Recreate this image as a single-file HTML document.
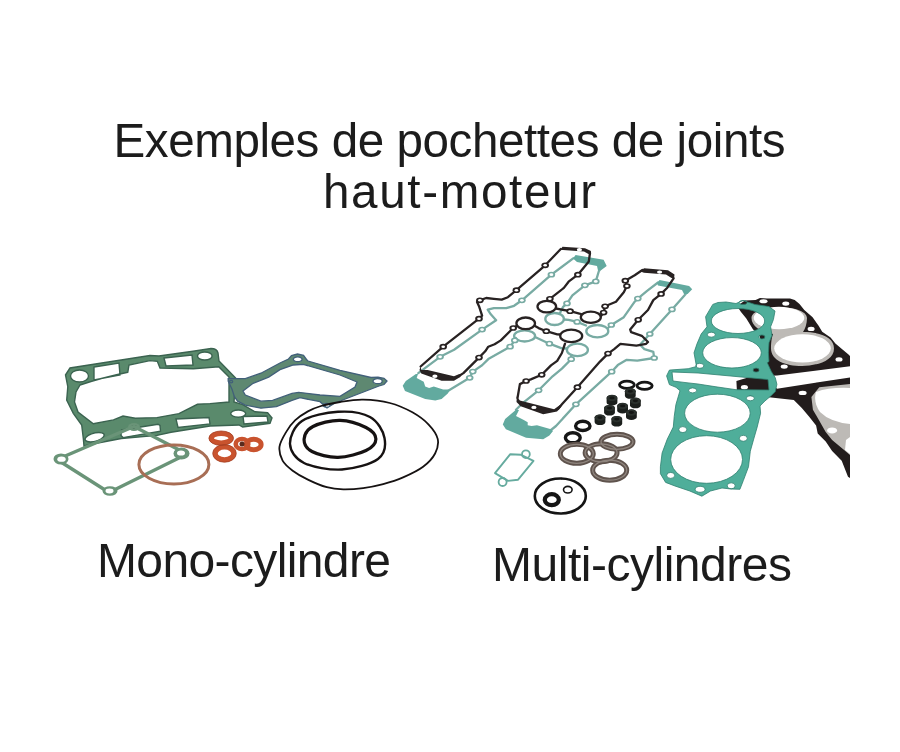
<!DOCTYPE html>
<html><head><meta charset="utf-8">
<style>
html,body{margin:0;padding:0;background:#fff;}
body{width:900px;height:752px;overflow:hidden;position:relative;}
svg{position:absolute;left:0;top:0;}
</style></head>
<body>
<svg width="900" height="752" viewBox="0 0 900 752">
<rect width="900" height="752" fill="#fff"/>
<g font-family="Liberation Sans" fill="#1c1c1c" style="will-change:transform">
<text x="113.5" y="157" font-size="47.6" textLength="672" lengthAdjust="spacing">Exemples de pochettes de joints</text>
<text x="323" y="208" font-size="47.6" textLength="273" lengthAdjust="spacing">haut-moteur</text>
<text x="97" y="577" font-size="48" textLength="294" lengthAdjust="spacing">Mono-cylindre</text>
<text x="492" y="581" font-size="48" textLength="300" lengthAdjust="spacing">Multi-cylindres</text>
</g>

<!-- ===== MONO-CYLINDRE ===== -->
<!-- Gasket C (thin head gasket) -->
<!-- Gasket A (cylinder base) -->
<path fill="#5a8a6c" stroke="#3b6350" stroke-width="1.4" fill-rule="evenodd" d="
M65.5 375 L70 368 L150 355.5 L159 356 L193 351.3 L211 348.5 Q217 348.5 218 353 L219 361 L235.6 378
L234 402 L242.7 404.7 L255 411.8 L267.6 412.7 L272 418 L270 423.3 L242.7 427 L239 425 L210 426 L171 432.3 L157 435.4 L121.3 438.5 L88.7 444.8 L84 446 L83.3 438.3 L81.7 425 L73.3 413.3 L66.7 400 L67.8 386.7 Z
M76 392 L80 385 Q100 378 127.8 372.2 L129 365 L150 360.6 L157.3 361.3 L160 368 L193.3 368.7 L218.7 366.7 L229 377 L229 402 L210 403.6 L197.5 404.3 L178.9 413.7 L157 417.6 L135.3 418.3 L123 416 L113.5 419.9 L93.3 423.8 L78 412 L74.5 402 Z
M70.5 376 a9 6 0 1 0 18 0 a9 6 0 1 0 -18 0 Z
M94 367 L119 363 L120 375 L94 380 Z
M164 358 L192 355 L193 365 L166 366 Z
M197.5 356 a7.3 4 0 1 0 14.6 0 a7.3 4 0 1 0 -14.6 0 Z
M230.7 413.6 a7.5 3.6 0 1 0 15 0 a7.5 3.6 0 1 0 -15 0 Z
M243 416.5 L267 416 L268 422 L244 424 Z
M176 419 L209 417.5 L210 424 L178 427.5 Z
M121.5 430 L158 424.2 L160 425.5 L160.5 431.2 L123 437.6 L121 435.5 Z
M86 437.2 a8.6 3.6 -15 1 0 17.2 0 a8.6 3.6 -15 1 0 -17.2 0 Z
"/>

<g id="gC">
<ellipse cx="134" cy="427" rx="6" ry="4" fill="#6a9478"/><ellipse cx="134" cy="427" rx="3" ry="1.8" fill="#3c5a48"/>
<path d="M57 459.5 L134 426.5 L187 454 L109 492.5 Z" fill="none" stroke="#6a9478" stroke-width="3.4" stroke-linejoin="round"/>
<ellipse cx="61" cy="459" rx="7.5" ry="5.5" fill="#6a9478"/><ellipse cx="61.5" cy="459.2" rx="4.2" ry="2.6" fill="#fff"/>
<ellipse cx="181.5" cy="453.5" rx="8" ry="6" fill="#6a9478"/><ellipse cx="181" cy="453" rx="4" ry="2.6" fill="#fff"/>
<ellipse cx="110" cy="491" rx="7.5" ry="4.8" fill="#6a9478"/><ellipse cx="109.5" cy="491" rx="4" ry="2.4" fill="#fff"/>
</g>

<!-- Gasket B -->
<path fill="#5e8871" stroke="#42607a" stroke-width="1.3" fill-rule="evenodd" d="
M228.2 378.7 L245.3 378.7 L260.9 373.2 L280 363 L288.5 359 L291.5 355.5 L297.5 354 L303.5 355.3 L306.5 359.5 L308 361 L340 370.3 L371 377.5 L378 377.2 L384 378.3 L387 381 L384 384.5 L379 386 L335 403 L327 408 L320 401.7 L300 397.7 L292 400.4 L276.4 406.7 L260.9 408.2 L245.3 405.1 L237.6 401.2 L234.4 396.6 L232.1 389.6 L228.2 381 Z
M243 391 L253.1 383.3 L268.7 377.1 L280 369.7 L293.3 365 L303.3 364.3 L340 375 L357 382 L355 387 L340 396.3 L320 395 L298.7 392.3 L292 393.4 L272.6 400.4 L260.9 401.2 L245.3 395 Z
M293.3 359.3 a4.4 2.4 0 1 0 8.8 0 a4.4 2.4 0 1 0 -8.8 0 Z
M373 381.2 a4.6 2.5 0 1 0 9.2 0 a4.6 2.5 0 1 0 -9.2 0 Z
M323.2 405.3 a3.4 2 0 1 0 6.8 0 a3.4 2 0 1 0 -6.8 0 Z
M229.5 381.6 a1.6 1.3 0 1 0 3.2 0 a1.6 1.3 0 1 0 -3.2 0 Z
"/>

<!-- Copper ring D -->
<ellipse cx="173.9" cy="464.4" rx="35" ry="19.5" fill="none" stroke="#a86e55" stroke-width="3"/>

<!-- Orange washers E -->
<g fill="none" stroke="#c9532e">
<ellipse cx="253.7" cy="444.5" rx="7.4" ry="5.3" stroke-width="5"/>
<ellipse cx="242" cy="444" rx="6.3" ry="5" stroke-width="4.6"/>
<ellipse cx="221.2" cy="438.2" rx="9.8" ry="4.8" stroke-width="5"/>
<ellipse cx="224.5" cy="453.4" rx="9.2" ry="6.4" stroke-width="5"/>
</g>
<g fill="none" stroke="#a33d22" stroke-width="0.8">
<ellipse cx="221.2" cy="438.2" rx="12.3" ry="7.2"/>
<ellipse cx="224.5" cy="453.4" rx="11.8" ry="8.8"/>
</g>
<ellipse cx="242" cy="444" rx="2.5" ry="2.5" fill="#5a2a1c"/>

<!-- O-rings F -->
<g fill="none" stroke="#161212">
<path d="M363.2 399.7 C371.5 399.9 381.6 400.9 389.8 403.0 C398.0 405.1 406.0 408.8 412.4 412.3 C418.8 415.9 424.2 419.9 428.4 424.3 C432.6 428.7 436.6 434.0 437.7 438.9 C438.8 443.8 437.5 448.9 435.1 453.5 C432.7 458.1 428.4 462.8 423.1 466.8 C417.8 470.8 409.8 474.5 403.1 477.4 C396.5 480.3 389.9 482.3 383.2 484.1 C376.5 485.9 369.8 487.2 363.2 488.1 C356.6 489.0 349.4 489.5 343.3 489.4 C337.2 489.2 332.7 488.8 326.8 487.2 C320.9 485.6 313.6 482.4 307.9 479.6 C302.2 476.9 296.9 473.9 292.7 470.7 C288.5 467.5 284.8 464.6 282.6 460.6 C280.4 456.6 278.9 451.5 279.5 446.7 C280.1 441.9 283.8 436.0 286.4 431.6 C289.0 427.2 291.7 423.6 295.3 420.2 C298.9 416.8 303.6 413.8 307.9 411.4 C312.2 409.0 315.6 407.6 321.0 406.0 C326.4 404.4 333.0 403.1 340.0 402.0 C347.0 400.9 354.9 399.5 363.2 399.7 Z" stroke-width="1.8"/>
<path d="M338.0 411.8 C349.3 411.1 362.2 412.6 370.0 417.0 C377.8 421.4 383.2 431.0 384.5 438.0 C385.8 445.0 385.1 453.8 378.0 459.0 C370.9 464.2 354.3 468.8 342.0 469.5 C329.7 470.2 312.7 467.2 304.0 463.0 C295.3 458.8 290.3 451.0 290.0 444.0 C289.7 437.0 294.0 426.4 302.0 421.0 C310.0 415.6 326.7 412.5 338.0 411.8 Z" stroke-width="2.4"/>
<path d="M340.0 420.3 C348.8 420.5 360.0 424.4 366.0 427.5 C372.0 430.6 375.9 435.1 375.9 438.9 C375.9 442.7 372.3 447.4 366.0 450.5 C359.7 453.6 347.0 457.1 338.0 457.3 C329.0 457.5 317.6 454.5 312.0 451.5 C306.4 448.5 303.9 443.4 304.1 439.2 C304.3 435.0 307.0 429.6 313.0 426.5 C319.0 423.4 331.2 420.1 340.0 420.3 Z" stroke-width="3.2"/>
</g>

<!-- ===== MULTI-CYLINDRES ===== -->
<!-- Black head gaskets (right) -->
<g id="bh">
<path fill="#221c1c" d="M737 306 L745 300.5 L755.6 300 L760 298 L767 298.5 L790 298.5 L794.7 300 L799.5 304.1 L804.3 310.1 L812.6 317.3 L818.6 325.7 L822.2 331.7 L830.6 337.6 L835.4 343.6 L842.5 349.6 L848.5 354.4 L850 356 L850 366.2 L777 375.5 L766 376 L750 374 L750 366 L762 360 L762 345 L759.6 335.9 L752.9 329.2 L746.3 318.6 L741 312 Z"/>
<path fill="#bdbab6" d="M751.5 318 C751.5 303.5 807 303.5 807 318 C807 324 805 329 803 332 C822 332 834 338 834 348.4 C834 361 816 366 802 366 C785 366 771 360 771 348.4 C771 341 772 337 773 334 C760 332 751.5 326 751.5 318 Z"/>
<ellipse cx="779" cy="318" rx="25.3" ry="11.2" fill="#fff"/>
<ellipse cx="802.5" cy="348.4" rx="28.3" ry="14.2" fill="#fff"/>
<path fill="#221c1c" d="M736.4 381 L748 377.5 L766 377 L777 388.7 L850 377.5 L850 478 L848 476.7 L841.7 460.7 L832.1 451.1 L825.7 441.6 L817.7 433.6 L816.1 425.6 L809.8 417.6 L801.8 408.1 L793.8 400.1 L766.7 396.9 L750 396 L737 393 Z"/>
<path fill="#bdbab6" d="M819.3 387.3 L850 384 L850 455 L841.7 448 L832.1 440 L825.7 432 L819.3 420.8 L812.9 409.7 L811.4 396.9 Z"/>
<path fill="#fff" d="M816 392 Q830 387 850 388 L850 424 Q830 422 820 412 Q813 402 816 392 Z"/>
<path fill="#fff" d="M850 437 L846 440 L845 450 L850 454 Z"/>
<g fill="#fff">
<ellipse cx="763.5" cy="301.3" rx="4" ry="2"/>
<ellipse cx="785.8" cy="303.6" rx="3.5" ry="2.2"/>
<ellipse cx="811.1" cy="328.9" rx="3.5" ry="2.2"/>
<ellipse cx="839" cy="359.4" rx="3.5" ry="2.2"/>
<ellipse cx="784.2" cy="366.6" rx="3.5" ry="2.2"/>
<ellipse cx="744.4" cy="387.3" rx="3.5" ry="2.2"/>
<ellipse cx="802.6" cy="392.9" rx="4" ry="2.2"/>
<ellipse cx="832.1" cy="430.4" rx="5" ry="3"/>
</g>
</g>

<!-- Teal head gasket TH -->
<path fill="#4fae9a" stroke="#2f8070" stroke-width="0.8" fill-rule="evenodd" d="
M712.8 304.4 L718 302.5 L726 302 L736 303.5 L743 300.5 L755 304.5 L769 306.6 L775 311 L773.4 319.6 L770.6 326.8 L772 335.4 L769 342.7 L768.4 352.8 L769 361.4 L767.3 362.8 L771.3 371.5 L775.3 377.9 L776.9 384.3 L775.3 391.5 L770.5 396.3 L764.9 401 L760 406 L760.6 413.2 L757.2 427 L753.7 439.1 L750.3 451.2 L748.5 466.8 L743.3 480.6 L739.9 489.3 L731 489 L722 488 L710.5 491 L701.9 496.2 L689.8 491 L675 486 L665.6 482.4 L660.4 473.7 L660.4 466.8 L662.1 453 L667.3 439.1 L673.3 427 L674.2 416.7 L675.9 404.6 L680 390.7 L676 387.3 L669.4 384.6 L666.6 375.9 L669.4 370.1 L688.2 368.7 L696.5 366.5 L694 352.8 L696.9 344.1 L701.2 334 L707 326.8 L705.6 316.7 Z
M711.3 321 a26.7 12.5 0 1 0 53.4 0 a26.7 12.5 0 1 0 -53.4 0 Z
M702.7 352.8 a29.3 15.2 0 1 0 58.6 0 a29.3 15.2 0 1 0 -58.6 0 Z
M684.6 413.2 a32.8 19 0 1 0 65.6 0 a32.8 19 0 1 0 -65.6 0 Z
M670.7 459.5 a35.9 23.8 0 1 0 71.8 0 a35.9 23.8 0 1 0 -71.8 0 Z
M672 372 L698 373 L736 376.5 L768 379.5 L769 390 L736 389.7 L716 386.8 L698 384 L684 382.4 L673 381 Z
M688.6 390.4 a4 2.5 0 1 0 8 0 a4 2.5 0 1 0 -8 0 Z
M746.3 398.3 a4 2.5 0 1 0 8 0 a4 2.5 0 1 0 -8 0 Z
M707.3 334.7 a4 2.5 0 1 0 8 0 a4 2.5 0 1 0 -8 0 Z
M695.8 365.8 a4 2.5 0 1 0 8 0 a4 2.5 0 1 0 -8 0 Z
M678.8 429.6 a4 3 0 1 0 8 0 a4 3 0 1 0 -8 0 Z
M739.3 438.3 a4 3 0 1 0 8 0 a4 3 0 1 0 -8 0 Z
M758.9 336.9 a3 2 0 1 0 6 0 a3 2 0 1 0 -6 0 Z
M753.1 370.1 a3 2 0 1 0 6 0 a3 2 0 1 0 -6 0 Z
M695.1 489.3 a5 3 0 1 0 10 0 a5 3 0 1 0 -10 0 Z
M666.7 475.4 a4 3 0 1 0 8 0 a4 3 0 1 0 -8 0 Z
M727.2 485.8 a4 3 0 1 0 8 0 a4 3 0 1 0 -8 0 Z
M739.1 302.5 a4 2 0 1 0 8 0 a4 2 0 1 0 -8 0 Z
"/>

<!-- Teal valve cover gaskets -->
<g id="vc">
<polyline points="418.3,373.1 440.1,356.8 454.1,349.8 482.1,329.6 496.1,320.2 490.8,314.3 487.7,309.7 493.9,308.1 506.3,308.1 514.1,305.8 521.9,300.3 551.4,274.7 573.2,258.3" fill="none" stroke="#78aba3" stroke-width="2.3" stroke-linejoin="round" stroke-linecap="round"/>
<polyline points="601,268.5 598.9,271 595.8,281.4 584.9,285.3 572.4,295.4 567,303.4 563.1,306.8 560,313" fill="none" stroke="#78aba3" stroke-width="2.3" stroke-linejoin="round" stroke-linecap="round"/>
<polyline points="563.9,319.5 568.6,319.8 577.1,321.9 586,325.5" fill="none" stroke="#78aba3" stroke-width="2.3" stroke-linejoin="round" stroke-linecap="round"/>
<polyline points="608,328 611.3,325 623.8,317.2 634.7,301.7 637.8,298.6 647.1,290.8 658,282.5" fill="none" stroke="#78aba3" stroke-width="2.3" stroke-linejoin="round" stroke-linecap="round"/>
<polyline points="686,293.5 684.4,295.4 672,309.4 649.8,334 640,344.7 644.4,349.1 653.3,351.8 654.2,358 637.3,360.7 626.7,359.8 617.8,365.1 611.7,371.7 575.9,404.3 556,426 551,430" fill="none" stroke="#78aba3" stroke-width="2.3" stroke-linejoin="round" stroke-linecap="round"/>
<polyline points="447.8,391 469.7,377.8 472.8,371.6 482.1,365.3 488.3,359.1 510.1,346.7 514.8,340.4 516,338" fill="none" stroke="#78aba3" stroke-width="2.3" stroke-linejoin="round" stroke-linecap="round"/>
<polyline points="535,337 549.4,343.7 561.9,348.3 567,348.5" fill="none" stroke="#78aba3" stroke-width="2.3" stroke-linejoin="round" stroke-linecap="round"/>
<polyline points="571.2,356 571.2,359.2 561.9,368.6 552.6,376.3 538.6,390.3 523,402.8 516,409.8" fill="none" stroke="#78aba3" stroke-width="2.3" stroke-linejoin="round" stroke-linecap="round"/>
<ellipse cx="554.6" cy="319" rx="9.3" ry="6" fill="none" stroke="#78aba3" stroke-width="2.3"/>
<ellipse cx="597.3" cy="331.2" rx="11" ry="6.2" fill="none" stroke="#78aba3" stroke-width="2.3"/>
<ellipse cx="524.6" cy="335.9" rx="10.5" ry="5.6" fill="none" stroke="#78aba3" stroke-width="2.3"/>
<ellipse cx="577.4" cy="349.9" rx="10.5" ry="6.2" fill="none" stroke="#78aba3" stroke-width="2.3"/>
<path d="M573 258.5 L575.6 255 L603.6 259.7 L606.7 265.9 L602 269.5 L598 270.5 L597 266 L577 262 Z" fill="#62aa9f"/>
<path d="M657 283 L659.6 279.9 L689.1 286.1 L692.2 289.2 L687.6 294 L684 294 L682 290 L665.8 287 L658 285.5 Z" fill="#62aa9f"/>
<path d="M415.9 374 L405.8 381 L402.7 385.7 L405 391.1 L425.2 398.9 L435.3 400.4 L441.6 398.9 L447.8 393.4 L450 390 L447.8 389.6 L443.1 389.6 L433.8 386.4 L429.1 388 L425.2 386.4 L423.7 381.8 L416.7 377.9 L418 374 Z" fill="#62aa9f"/>
<path d="M516 409.8 L505.1 419.1 L502.8 424.6 L505.9 429.2 L526.1 437.8 L543.2 439.3 L549.4 435.4 L553 431 L551 429.2 L537 425.3 L531.6 426.1 L527.7 425.3 L527.7 422.2 L523.8 419.9 L516 416 L519 410 Z" fill="#62aa9f"/>
<ellipse cx="440.1" cy="356.8" rx="3.8" ry="2.85" fill="#78aba3"/>
<ellipse cx="440.1" cy="356.8" rx="1.9" ry="1.33" fill="#fff"/>
<ellipse cx="482.1" cy="329.6" rx="3.8" ry="2.85" fill="#78aba3"/>
<ellipse cx="482.1" cy="329.6" rx="1.9" ry="1.33" fill="#fff"/>
<ellipse cx="521.9" cy="300.3" rx="3.8" ry="2.85" fill="#78aba3"/>
<ellipse cx="521.9" cy="300.3" rx="1.9" ry="1.33" fill="#fff"/>
<ellipse cx="551.4" cy="274.7" rx="3.8" ry="2.85" fill="#78aba3"/>
<ellipse cx="551.4" cy="274.7" rx="1.9" ry="1.33" fill="#fff"/>
<ellipse cx="595.8" cy="281.4" rx="3.8" ry="2.85" fill="#78aba3"/>
<ellipse cx="595.8" cy="281.4" rx="1.9" ry="1.33" fill="#fff"/>
<ellipse cx="584.9" cy="285.3" rx="3.8" ry="2.85" fill="#78aba3"/>
<ellipse cx="584.9" cy="285.3" rx="1.9" ry="1.33" fill="#fff"/>
<ellipse cx="567" cy="303.4" rx="3.8" ry="2.85" fill="#78aba3"/>
<ellipse cx="567" cy="303.4" rx="1.9" ry="1.33" fill="#fff"/>
<ellipse cx="577.1" cy="321.9" rx="3.8" ry="2.85" fill="#78aba3"/>
<ellipse cx="577.1" cy="321.9" rx="1.9" ry="1.33" fill="#fff"/>
<ellipse cx="611.3" cy="325" rx="3.8" ry="2.85" fill="#78aba3"/>
<ellipse cx="611.3" cy="325" rx="1.9" ry="1.33" fill="#fff"/>
<ellipse cx="637.8" cy="298.6" rx="3.8" ry="2.85" fill="#78aba3"/>
<ellipse cx="637.8" cy="298.6" rx="1.9" ry="1.33" fill="#fff"/>
<ellipse cx="672" cy="309.4" rx="3.8" ry="2.85" fill="#78aba3"/>
<ellipse cx="672" cy="309.4" rx="1.9" ry="1.33" fill="#fff"/>
<ellipse cx="649.8" cy="334" rx="3.8" ry="2.85" fill="#78aba3"/>
<ellipse cx="649.8" cy="334" rx="1.9" ry="1.33" fill="#fff"/>
<ellipse cx="654.2" cy="358" rx="3.8" ry="2.85" fill="#78aba3"/>
<ellipse cx="654.2" cy="358" rx="1.9" ry="1.33" fill="#fff"/>
<ellipse cx="611.7" cy="371.7" rx="3.8" ry="2.85" fill="#78aba3"/>
<ellipse cx="611.7" cy="371.7" rx="1.9" ry="1.33" fill="#fff"/>
<ellipse cx="575.9" cy="404.3" rx="3.8" ry="2.85" fill="#78aba3"/>
<ellipse cx="575.9" cy="404.3" rx="1.9" ry="1.33" fill="#fff"/>
<ellipse cx="469.7" cy="377.8" rx="3.8" ry="2.85" fill="#78aba3"/>
<ellipse cx="469.7" cy="377.8" rx="1.9" ry="1.33" fill="#fff"/>
<ellipse cx="472.8" cy="371.6" rx="3.8" ry="2.85" fill="#78aba3"/>
<ellipse cx="472.8" cy="371.6" rx="1.9" ry="1.33" fill="#fff"/>
<ellipse cx="510.1" cy="346.7" rx="3.8" ry="2.85" fill="#78aba3"/>
<ellipse cx="510.1" cy="346.7" rx="1.9" ry="1.33" fill="#fff"/>
<ellipse cx="514.8" cy="340.4" rx="3.8" ry="2.85" fill="#78aba3"/>
<ellipse cx="514.8" cy="340.4" rx="1.9" ry="1.33" fill="#fff"/>
<ellipse cx="549.4" cy="343.7" rx="3.8" ry="2.85" fill="#78aba3"/>
<ellipse cx="549.4" cy="343.7" rx="1.9" ry="1.33" fill="#fff"/>
<ellipse cx="571.2" cy="359.2" rx="3.8" ry="2.85" fill="#78aba3"/>
<ellipse cx="571.2" cy="359.2" rx="1.9" ry="1.33" fill="#fff"/>
<ellipse cx="538.6" cy="390.3" rx="3.8" ry="2.85" fill="#78aba3"/>
<ellipse cx="538.6" cy="390.3" rx="1.9" ry="1.33" fill="#fff"/>
<polyline points="420.6,366.5 443.2,346.7 479,318.7 482.1,315.6 479,306.2 477,302 479.9,300.3 486.1,298 493.9,298.8 501.7,299.6 507.9,297.2 516.4,290.2 545.2,265.3 560.8,249" fill="none" stroke="#282222" stroke-width="2.3" stroke-linejoin="round" stroke-linecap="round"/>
<polyline points="590,253 588.8,261.4 577.9,274.7 568.6,281.7 563.9,287.9 549.9,298.8 549,300.5" fill="none" stroke="#282222" stroke-width="2.3" stroke-linejoin="round" stroke-linecap="round"/>
<polyline points="556,308.5 570.1,311.2 579.4,313.6 581,314" fill="none" stroke="#282222" stroke-width="2.3" stroke-linejoin="round" stroke-linecap="round"/>
<polyline points="601,316 603.6,312.6 605.1,306.3 616,301.7 623.8,292.3 626.9,286.1 625.3,280.7 634.7,275.2 642.4,270" fill="none" stroke="#282222" stroke-width="2.3" stroke-linejoin="round" stroke-linecap="round"/>
<polyline points="673.6,278.3 667.3,287.7 661.1,293.9 653.3,300.1 648,310 638.2,319.8 630.2,329.6 631.1,332.2 641.8,335.8 648,342 646.2,343.8 636.4,345.6 620.4,343.8 614.2,349.1 608,353.6 600,361.6 577.4,387.2 561.9,404.3 558,409" fill="none" stroke="#282222" stroke-width="2.3" stroke-linejoin="round" stroke-linecap="round"/>
<polyline points="517.5,398 519.9,384.1 526.1,381 530.8,379.4 541.7,374.8 551,365.4 557.2,360.8 561.9,353 565,343.7" fill="none" stroke="#282222" stroke-width="2.3" stroke-linejoin="round" stroke-linecap="round"/>
<polyline points="560,334.5 557.2,334.3 546.3,331.2 538.6,328.1 535,326" fill="none" stroke="#282222" stroke-width="2.3" stroke-linejoin="round" stroke-linecap="round"/>
<polyline points="516.5,326 513.2,328 500.8,340.4 494.6,344.3 488.3,346.7 485.2,351.3 479,357.6 463.4,373.1 459,376" fill="none" stroke="#282222" stroke-width="2.3" stroke-linejoin="round" stroke-linecap="round"/>
<ellipse cx="546.8" cy="306.6" rx="9.3" ry="5.8" fill="none" stroke="#282222" stroke-width="2.3"/>
<ellipse cx="590.8" cy="317.3" rx="10" ry="5.6" fill="none" stroke="#282222" stroke-width="2.3"/>
<ellipse cx="525.7" cy="323.3" rx="9.3" ry="5.8" fill="none" stroke="#282222" stroke-width="2.3"/>
<ellipse cx="571.2" cy="335.9" rx="11" ry="6.2" fill="none" stroke="#282222" stroke-width="2.3"/>
<path d="M560 250 L562.5 246.8 L585 248.3 L591 251 L590.5 254.5 L588 253.8 L584 251.5 L563 250 Z" fill="#282222"/>
<path d="M640.5 271.5 L644 268.3 L668 270.3 L674.5 274.5 L674 278.8 L671.5 278 L666 274.5 L644 272.8 Z" fill="#282222"/>
<path d="M420.6 366.2 L421.3 370.1 L427.6 370.1 L454 376.3 L459.4 374 L461 375.5 L460.2 377.1 L454 380.7 L441.6 380.7 L421.3 373.5 L419.5 370 Z" fill="#282222"/>
<path d="M516.8 396.6 L519.9 400.5 L524.6 401.8 L554.1 409.3 L560 405 L561.5 406.5 L557 411.5 L543.2 414.2 L520.7 406.2 L516.5 402 Z" fill="#282222"/>
<ellipse cx="443.2" cy="346.7" rx="3.8" ry="2.85" fill="#282222"/>
<ellipse cx="443.2" cy="346.7" rx="1.8" ry="1.26" fill="#fff"/>
<ellipse cx="479" cy="318.7" rx="3.8" ry="2.85" fill="#282222"/>
<ellipse cx="479" cy="318.7" rx="1.8" ry="1.26" fill="#fff"/>
<ellipse cx="479.9" cy="300.3" rx="3.8" ry="2.85" fill="#282222"/>
<ellipse cx="479.9" cy="300.3" rx="1.8" ry="1.26" fill="#fff"/>
<ellipse cx="516.4" cy="290.2" rx="3.8" ry="2.85" fill="#282222"/>
<ellipse cx="516.4" cy="290.2" rx="1.8" ry="1.26" fill="#fff"/>
<ellipse cx="545.2" cy="265.3" rx="3.8" ry="2.85" fill="#282222"/>
<ellipse cx="545.2" cy="265.3" rx="1.8" ry="1.26" fill="#fff"/>
<ellipse cx="577.9" cy="274.7" rx="3.8" ry="2.85" fill="#282222"/>
<ellipse cx="577.9" cy="274.7" rx="1.8" ry="1.26" fill="#fff"/>
<ellipse cx="549.9" cy="298.8" rx="3.8" ry="2.85" fill="#282222"/>
<ellipse cx="549.9" cy="298.8" rx="1.8" ry="1.26" fill="#fff"/>
<ellipse cx="570.1" cy="311.2" rx="3.8" ry="2.85" fill="#282222"/>
<ellipse cx="570.1" cy="311.2" rx="1.8" ry="1.26" fill="#fff"/>
<ellipse cx="603.6" cy="312.6" rx="3.8" ry="2.85" fill="#282222"/>
<ellipse cx="603.6" cy="312.6" rx="1.8" ry="1.26" fill="#fff"/>
<ellipse cx="605.1" cy="306.3" rx="3.8" ry="2.85" fill="#282222"/>
<ellipse cx="605.1" cy="306.3" rx="1.8" ry="1.26" fill="#fff"/>
<ellipse cx="626.9" cy="286.1" rx="3.8" ry="2.85" fill="#282222"/>
<ellipse cx="626.9" cy="286.1" rx="1.8" ry="1.26" fill="#fff"/>
<ellipse cx="625.3" cy="280.7" rx="3.8" ry="2.85" fill="#282222"/>
<ellipse cx="625.3" cy="280.7" rx="1.8" ry="1.26" fill="#fff"/>
<ellipse cx="661.1" cy="293.9" rx="3.8" ry="2.85" fill="#282222"/>
<ellipse cx="661.1" cy="293.9" rx="1.8" ry="1.26" fill="#fff"/>
<ellipse cx="638.2" cy="319.8" rx="3.8" ry="2.85" fill="#282222"/>
<ellipse cx="638.2" cy="319.8" rx="1.8" ry="1.26" fill="#fff"/>
<ellipse cx="608" cy="353.6" rx="3.8" ry="2.85" fill="#282222"/>
<ellipse cx="608" cy="353.6" rx="1.8" ry="1.26" fill="#fff"/>
<ellipse cx="577.4" cy="387.2" rx="3.8" ry="2.85" fill="#282222"/>
<ellipse cx="577.4" cy="387.2" rx="1.8" ry="1.26" fill="#fff"/>
<ellipse cx="526.1" cy="381" rx="3.8" ry="2.85" fill="#282222"/>
<ellipse cx="526.1" cy="381" rx="1.8" ry="1.26" fill="#fff"/>
<ellipse cx="541.7" cy="374.8" rx="3.8" ry="2.85" fill="#282222"/>
<ellipse cx="541.7" cy="374.8" rx="1.8" ry="1.26" fill="#fff"/>
<ellipse cx="546.3" cy="331.2" rx="3.8" ry="2.85" fill="#282222"/>
<ellipse cx="546.3" cy="331.2" rx="1.8" ry="1.26" fill="#fff"/>
<ellipse cx="513.2" cy="328" rx="3.8" ry="2.85" fill="#282222"/>
<ellipse cx="513.2" cy="328" rx="1.8" ry="1.26" fill="#fff"/>
<ellipse cx="479" cy="357.6" rx="3.8" ry="2.85" fill="#282222"/>
<ellipse cx="479" cy="357.6" rx="1.8" ry="1.26" fill="#fff"/>
<ellipse cx="579.4" cy="249.8" rx="2.6" ry="1.7" fill="#fff"/>
<ellipse cx="659.6" cy="272.1" rx="2.6" ry="1.7" fill="#fff"/>
<ellipse cx="434.9" cy="376.3" rx="2.6" ry="1.7" fill="#fff"/>
<ellipse cx="533.9" cy="407.4" rx="2.6" ry="1.7" fill="#fff"/>
</g>
<!-- small teal gasket -->
<path d="M510.3 454.2 L521 454.8 L533.5 460.8 L518.1 479.7 L508 480.9 L495 473.1 Z" fill="none" stroke="#66ab9f" stroke-width="1.9" stroke-linejoin="round"/>
<circle cx="525.9" cy="454.2" r="3.9" fill="none" stroke="#66ab9f" stroke-width="1.8"/>
<circle cx="502.6" cy="482" r="4" fill="none" stroke="#66ab9f" stroke-width="1.8"/>

<!-- small black rings -->
<g fill="none" stroke="#161616" stroke-width="2.8">
<ellipse cx="626.9" cy="384.7" rx="7.4" ry="3.6"/>
<ellipse cx="644.6" cy="385.7" rx="7.6" ry="3.6"/>
</g>
<g fill="none" stroke="#161616" stroke-width="3.4">
<ellipse cx="582.8" cy="425.9" rx="7.2" ry="4.6"/>
<ellipse cx="572.8" cy="437.8" rx="7.4" ry="5"/>
</g>
<!-- valve stem seals -->
<g>
<path d="M624.9 391.3 L624.9 395.8 A5.4 3 0 0 0 635.7 395.8 L635.7 391.3 A5.4 3 0 0 0 624.9 391.3 Z" fill="#1b1f1c"/>
<ellipse cx="630.3" cy="391.3" rx="5.4" ry="3.2" fill="#2a302c"/>
<ellipse cx="630.3" cy="391.3" rx="2.6" ry="1.4" fill="#141614"/>
<path d="M606.6 397.9 L606.6 402.4 A5.4 3 0 0 0 617.4 402.4 L617.4 397.9 A5.4 3 0 0 0 606.6 397.9 Z" fill="#1b1f1c"/>
<ellipse cx="612" cy="397.9" rx="5.4" ry="3.2" fill="#2a302c"/>
<ellipse cx="612" cy="397.9" rx="2.6" ry="1.4" fill="#141614"/>
<path d="M630 400.8 L630 405.3 A5.4 3 0 0 0 640.8 405.3 L640.8 400.8 A5.4 3 0 0 0 630 400.8 Z" fill="#1b1f1c"/>
<ellipse cx="635.4" cy="400.8" rx="5.4" ry="3.2" fill="#2a302c"/>
<ellipse cx="635.4" cy="400.8" rx="2.6" ry="1.4" fill="#141614"/>
<path d="M617.2 405.9 L617.2 410.4 A5.4 3 0 0 0 628 410.4 L628 405.9 A5.4 3 0 0 0 617.2 405.9 Z" fill="#1b1f1c"/>
<ellipse cx="622.6" cy="405.9" rx="5.4" ry="3.2" fill="#2a302c"/>
<ellipse cx="622.6" cy="405.9" rx="2.6" ry="1.4" fill="#141614"/>
<path d="M604.1 408.1 L604.1 412.6 A5.4 3 0 0 0 614.9 412.6 L614.9 408.1 A5.4 3 0 0 0 604.1 408.1 Z" fill="#1b1f1c"/>
<ellipse cx="609.5" cy="408.1" rx="5.4" ry="3.2" fill="#2a302c"/>
<ellipse cx="609.5" cy="408.1" rx="2.6" ry="1.4" fill="#141614"/>
<path d="M626 412.5 L626 417 A5.4 3 0 0 0 636.8 417 L636.8 412.5 A5.4 3 0 0 0 626 412.5 Z" fill="#1b1f1c"/>
<ellipse cx="631.4" cy="412.5" rx="5.4" ry="3.2" fill="#2a302c"/>
<ellipse cx="631.4" cy="412.5" rx="2.6" ry="1.4" fill="#141614"/>
<path d="M594.6 417.6 L594.6 422.1 A5.4 3 0 0 0 605.4 422.1 L605.4 417.6 A5.4 3 0 0 0 594.6 417.6 Z" fill="#1b1f1c"/>
<ellipse cx="600" cy="417.6" rx="5.4" ry="3.2" fill="#2a302c"/>
<ellipse cx="600" cy="417.6" rx="2.6" ry="1.4" fill="#141614"/>
<path d="M611.4 419.1 L611.4 423.6 A5.4 3 0 0 0 622.2 423.6 L622.2 419.1 A5.4 3 0 0 0 611.4 419.1 Z" fill="#1b1f1c"/>
<ellipse cx="616.8" cy="419.1" rx="5.4" ry="3.2" fill="#2a302c"/>
<ellipse cx="616.8" cy="419.1" rx="2.6" ry="1.4" fill="#141614"/>
</g>
<!-- grey valve rings -->
<g fill="none" stroke="#5f534d" stroke-width="5">
<ellipse cx="617" cy="441.8" rx="16" ry="7.5"/>
<ellipse cx="576.8" cy="453.8" rx="16.5" ry="9.5"/>
<ellipse cx="601.1" cy="452.8" rx="16" ry="9"/>
<ellipse cx="609.7" cy="470.2" rx="17" ry="10"/>
</g>
<g fill="none" stroke="#8f857e" stroke-width="1.3">
<ellipse cx="617" cy="441.8" rx="16" ry="7.5"/>
<ellipse cx="576.8" cy="453.8" rx="16.5" ry="9.5"/>
<ellipse cx="601.1" cy="452.8" rx="16" ry="9"/>
<ellipse cx="609.7" cy="470.2" rx="17" ry="10"/>
</g>
<!-- black O-ring and washers bottom -->
<ellipse cx="560.3" cy="496" rx="25.5" ry="17.5" fill="none" stroke="#151515" stroke-width="2.6"/>
<ellipse cx="551.8" cy="499.7" rx="7" ry="5.5" fill="none" stroke="#151515" stroke-width="4.2"/>
<ellipse cx="567.8" cy="489.7" rx="4.3" ry="3.3" fill="none" stroke="#151515" stroke-width="1.6"/>
</svg>
</body></html>
